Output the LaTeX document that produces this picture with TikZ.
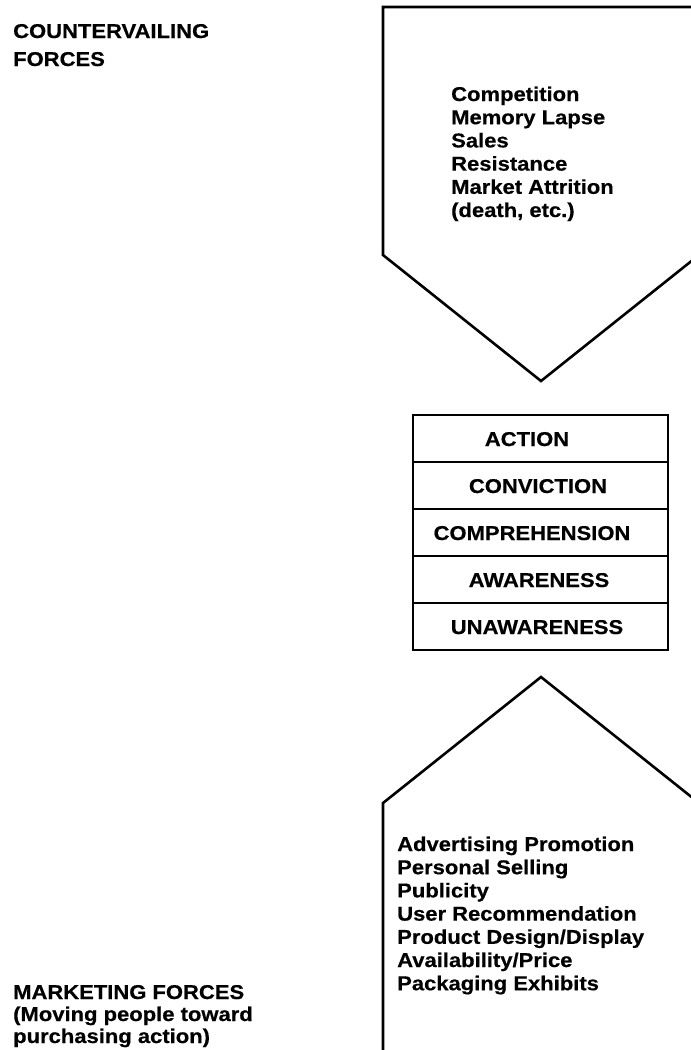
\documentclass[tikz,border=0pt]{standalone}
\usepackage{fontspec}
\setmainfont{Liberation Sans}[BoldFont={Liberation Sans Bold},BoldFeatures={FakeStretch=1.1,FakeBold=0.5}]
\begin{document}
\begin{tikzpicture}[x=1pt,y=-1pt,
  outline/.style={line width=2.6pt,line join=miter},
  stagebox/.style={draw,line width=2pt,minimum width=255pt,minimum height=47pt,inner sep=0pt},
  stagetext/.style={font=\bfseries\fontsize{20}{24}\selectfont,inner sep=0pt,anchor=base},
  listtext/.style={font=\bfseries\fontsize{20}{24}\selectfont,inner sep=0pt,anchor=base west},
  sidetext/.style={font=\bfseries\fontsize{20}{24}\selectfont,inner sep=0pt,anchor=base west}]
\useasboundingbox (0,0) rectangle (691,1050);
\begin{scope}
\clip (0,0) rectangle (691,1050);
% downward arrow of countervailing forces
\draw[outline] (695,7) -- (383,7) -- (383,255) -- (541,381) -- (699,255);
% upward arrow of marketing forces
\draw[outline] (699,803) -- (541,677) -- (383,803) -- (383,1055);
\end{scope}

% side captions
\node[sidetext] (cf1) at (13,38) {COUNTERVAILING};
\node[sidetext] (cf2) at (13,66) {FORCES};
\node[sidetext] (mf1) at (13,999) {MARKETING FORCES};
\node[sidetext] (mf2) at (13,1021) {(Moving people toward};
\node[sidetext] (mf3) at (13,1043) {purchasing action)};

% countervailing factors
\foreach \t [count=\i from 0] in {Competition,Memory Lapse,Sales,Resistance,Market Attrition,{(death, etc.)}}
  \node[listtext] (c\i) at (451,{101+23.2*\i}) {\t};

% marketing factors
\foreach \t [count=\i from 0] in {Advertising Promotion,Personal Selling,Publicity,User Recommendation,Product Design/Display,Availability/Price,Packaging Exhibits}
  \node[listtext] (m\i) at (397,{851+23.2*\i}) {\t};

% hierarchy of stages
\foreach \i in {0,...,4}
  \node[stagebox] (s\i) at (540.5,{438.5+47*\i}) {};
\node[stagetext] (l0) at (527,446) {ACTION};
\node[stagetext] (l1) at (538,493) {CONVICTION};
\node[stagetext] (l2) at (532,540) {COMPREHENSION};
\node[stagetext] (l3) at (539,587) {AWARENESS};
\node[stagetext] (l4) at (537,634) {UNAWARENESS};
\end{tikzpicture}
\end{document}
